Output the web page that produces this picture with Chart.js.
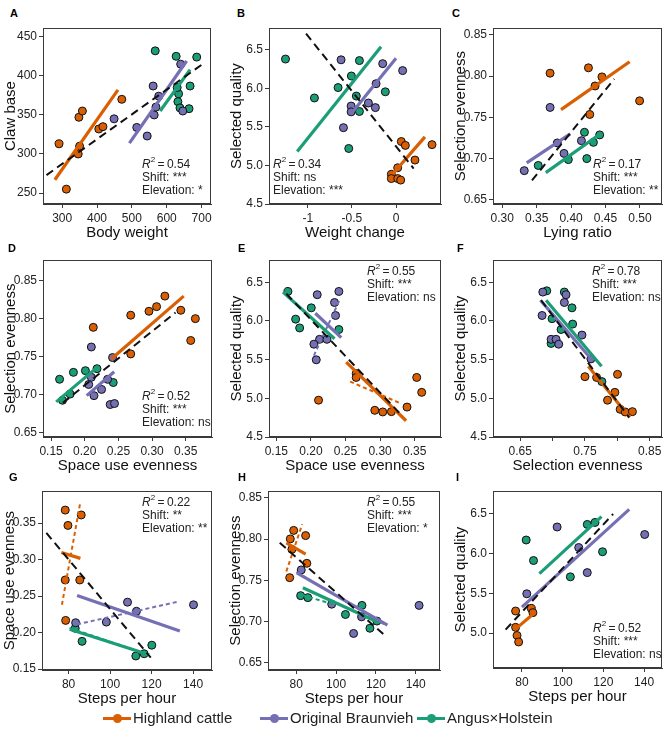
<!DOCTYPE html>
<html><head><meta charset="utf-8">
<script src="https://cdn.jsdelivr.net/npm/chart.js@4.4.0/dist/chart.umd.min.js"></script>
<style>
body{margin:0;background:#fff;width:669px;height:738px;position:relative;overflow:hidden;font-family:"Liberation Sans",Arial,sans-serif;}
canvas{position:absolute;}
.lab{position:absolute;font-weight:bold;font-size:11px;line-height:12px;color:#000;}
.ann{position:absolute;font-size:12px;line-height:13px;color:#222;white-space:nowrap;}
.ann sup{font-size:8px;line-height:0;position:relative;top:-1px;}
.leg{position:absolute;top:709px;height:18px;font-size:15px;line-height:18px;color:#222;white-space:nowrap;}
.mk{position:absolute;top:8px;height:3px;width:28px;}
.dot{position:absolute;top:5px;left:10px;width:9px;height:9px;border-radius:50%;}
</style></head><body>
<script>
// ---------------- DATA ----------------
const groups = ['Highland cattle','Original Braunvieh','Angus×Holstein'];
const colors = ['#D95F02','#7570B3','#1B9E77'];

// Panel A: Body weight vs Claw base
const A_hl = [[291,313],[312,255],[348,347],[358,355],[350,310],[346,300],[405,332],[417,335],[471,370]];
const A_ob = [[449,345],[514,334],[544,323],[561,387],[577,374],[564,350],[569,360],[640,415],[646,355]];
const A_ah = [[567,432],[627,425],[686,424],[667,387],[634,377],[632,367],[638,359],[664,358],[630,385]];
const A_fit_hl = [[279,267],[460,382]];
const A_fit_ob = [[493,314],[657,419]];
const A_fit_ah = [[581,355],[667,408]];
const A_fit_all = [[255,273],[709,417]];
const A_xTicks = [300,400,500,600,700];
const A_yTicks = [250,300,350,400,450];

// Panel B: Weight change vs Selected quality
const B_hl = [[0.06,5.31],[0.106,5.26],[0.408,5.27],[0.215,5.07],[0.019,4.97],[-0.053,4.885],[-0.053,4.83],[0.019,4.83],[0.053,4.81]];
const B_ob = [[-0.623,6.37],[-0.151,6.32],[0.075,6.23],[-0.226,6.06],[-0.509,5.77],[-0.509,5.695],[-0.313,5.81],[-0.234,5.75],[-0.596,5.49]];
const B_ah = [[-1.253,6.38],[-0.925,5.875],[-0.657,6.01],[-0.506,6.16],[-0.415,6.36],[-0.415,5.70],[-0.536,5.22],[-0.121,5.955],[-0.45,5.90]];
const B_fit_hl = [[-0.038,4.89],[0.328,5.37]];
const B_fit_ob = [[-0.509,5.67],[0,6.39]];
const B_fit_ah = [[-1.12,5.18],[-0.17,6.54]];
const B_fit_all = [[-1.02,6.71],[0.2,4.96]];
const B_xTicks = [-1,-0.5,0];
const B_yTicks = [4.5,5.0,5.5,6.0,6.5];

// Panel C: Lying ratio vs Selection evenness
const C_hl = [[0.3695,0.8035],[0.4252,0.810],[0.4448,0.799],[0.4348,0.788],[0.4271,0.7535],[0.4995,0.770]];
const C_ob = [[0.3695,0.762],[0.332,0.6854],[0.380,0.719],[0.3897,0.7063],[0.415,0.7217]];
const C_ah = [[0.3523,0.6917],[0.396,0.6988],[0.4228,0.700],[0.4194,0.7319],[0.4324,0.7197],[0.4415,0.7287]];
const C_fit_hl = [[0.3854,0.7594],[0.485,0.8173]];
const C_fit_ob = [[0.3355,0.6949],[0.3988,0.730]];
const C_fit_ah = [[0.3633,0.683],[0.4415,0.7295]];
const C_fit_all = [[0.3432,0.6736],[0.4626,0.7965]];
const C_xTicks = [0.30,0.35,0.40,0.45,0.50];
const C_yTicks = [0.65,0.70,0.75,0.80,0.85];

// Panel D: Space use evenness vs Selection evenness
const D_hl = [[0.2127,0.7885],[0.2683,0.8045],[0.2683,0.7535],[0.2954,0.8097],[0.3067,0.8158],[0.319,0.8297],[0.3427,0.811],[0.3643,0.800],[0.3574,0.7712]];
const D_ob = [[0.2098,0.7626],[0.2413,0.7487],[0.2059,0.7132],[0.2137,0.6985],[0.2250,0.7067],[0.2339,0.720],[0.2378,0.6868],[0.2442,0.6881],[0.2098,0.7227]];
const D_ah = [[0.1626,0.7201],[0.167,0.6924],[0.1832,0.7292],[0.1783,0.7006],[0.201,0.7314],[0.2182,0.734],[0.2423,0.7158]];
const D_fit_hl = [[0.2389,0.7465],[0.347,0.8297]];
const D_fit_ob = [[0.2029,0.6985],[0.2437,0.730]];
const D_fit_ah = [[0.1576,0.6903],[0.2206,0.7374]];
const D_fit_all = [[0.1675,0.689],[0.3348,0.808]];
const D_xTicks = [0.15,0.20,0.25,0.30,0.35];
const D_yTicks = [0.65,0.70,0.75,0.80,0.85];

// Panel E: Space use evenness vs Selected quality
const E_hl = [[0.2654,5.32],[0.2654,5.27],[0.211,4.976],[0.2923,4.845],[0.3038,4.824],[0.3163,4.828],[0.3389,4.887],[0.3529,5.27],[0.3601,5.077]];
const E_ob = [[0.2091,6.34],[0.2404,6.382],[0.2341,6.239],[0.2356,6.071],[0.2125,5.763],[0.2043,5.70],[0.2077,5.498],[0.2231,5.763]];
const E_ah = [[0.1668,6.382],[0.1779,6.024],[0.1837,5.91],[0.2005,6.17],[0.2404,5.89]];
const E_fit_hl = [[0.251,5.468],[0.3375,4.71]];
const E_fit_ob = [[0.2063,6.1],[0.2438,5.784]];
const E_fit_ah = [[0.1596,6.374],[0.2341,5.77]];
const E_fit_all = [[0.1644,6.353],[0.3317,4.774]];
const E_dash_hl = [[0.2567,5.216],[0.3279,4.942]];
const E_dash_ob = [[0.2043,5.553],[0.2413,6.268]];
const E_dash_ah = [[0.165,6.33],[0.23,5.80]];
const E_xTicks = [0.15,0.20,0.25,0.30,0.35];
const E_yTicks = [4.5,5.0,5.5,6.0,6.5];

// Panel F: Selection evenness vs Selected quality
const F_hl = [[0.75,5.28],[0.768,5.27],[0.8003,5.31],[0.7962,5.077],[0.7849,4.976],[0.8044,4.858],[0.8121,4.824],[0.8233,4.828]];
const F_ob = [[0.6849,6.374],[0.6838,6.071],[0.7208,6.34],[0.7182,6.239],[0.6977,5.763],[0.7054,5.763],[0.7095,5.70],[0.7454,5.818],[0.7592,5.51]];
const F_ah = [[0.691,6.39],[0.7182,6.374],[0.73,6.17],[0.6992,6.03],[0.731,5.96],[0.7131,5.89],[0.6977,5.71],[0.7762,5.216]];
const F_fit_hl = [[0.7551,5.414],[0.8192,4.753]];
const F_fit_ob = [[0.6813,6.268],[0.7618,5.489]];
const F_fit_ah = [[0.69,6.268],[0.7756,5.414]];
const F_fit_all = [[0.6823,6.268],[0.8182,4.753]];
const F_xTicks = [0.65,0.70,0.75,0.80,0.85];
const F_xLabels = ['0.65','','0.75','','0.85'];
const F_yTicks = [4.5,5.0,5.5,6.0,6.5];

// Panel G: Steps per hour vs Space use evenness
const G_hl = [[78.4,0.3679],[79.7,0.3469],[86.1,0.3612],[78.4,0.2721],[85.4,0.2721],[78.6,0.2167]];
const G_ob = [[83.4,0.2135],[98.2,0.2144],[108.4,0.2417],[112.7,0.2292],[140.2,0.2381]];
const G_ah = [[83.2,0.2059],[86.5,0.188],[112.4,0.1679],[116.4,0.171],[120.1,0.1827]];
const G_fit_hl = [[76.5,0.3097],[85.7,0.3017]];
const G_fit_ob = [[84.1,0.2507],[133.6,0.2023]];
const G_fit_ah = [[80.5,0.2046],[118.8,0.1697]];
const G_fit_all = [[69.3,0.3366],[119.6,0.1657]];
const G_dash_hl = [[76.8,0.2381],[85.6,0.3777]];
const G_dash_ob = [[84.1,0.2113],[133.1,0.2426]];
const G_dash_ah = [[80.5,0.2065],[117,0.1712]];
const G_xTicks = [80,100,120,140];
const G_yTicks = [0.15,0.20,0.25,0.30,0.35];

// Panel H: Steps per hour vs Selection evenness
const H_hl = [[78.7,0.8105],[77.0,0.8002],[84.7,0.8042],[77.8,0.7875],[85.3,0.7706],[76.7,0.7532]];
const H_ob = [[82.5,0.7626],[97.8,0.7211],[112.8,0.7057],[108.8,0.6856],[141.7,0.7196]];
const H_ah = [[82.2,0.7314],[85.8,0.729],[104.7,0.7086],[113,0.7196],[117,0.6919],[120.5,0.7006]];
const H_fit_hl = [[75,0.7955],[84.7,0.7816]];
const H_fit_ob = [[80.3,0.7591],[125.8,0.6958]];
const H_fit_ah = [[83.3,0.7409],[121.7,0.6986]];
const H_fit_all = [[71.7,0.7955],[124.7,0.6828]];
const H_dash_hl = [[75,0.7607],[83,0.818]];
const H_dash_ob = [[80,0.760],[124,0.697]];
const H_dash_ah = [[83,0.732],[100,0.720]];
const H_xTicks = [80,100,120,140];
const H_yTicks = [0.65,0.70,0.75,0.80,0.85];

// Panel I: Steps per hour vs Selected quality
const I_hl = [[76.9,5.277],[84.6,5.31],[85.4,5.257],[76.9,5.073],[77.6,4.971],[78.4,4.89]];
const I_ob = [[82.4,5.493],[97.3,6.329],[107.9,6.072],[112.1,5.758],[140.3,6.235]];
const I_ah = [[82.1,6.166],[85.7,5.909],[103.8,5.705],[112.1,6.361],[115.9,6.386],[119.6,6.019]];
const I_fit_hl = [[76.4,5.041],[85.4,5.236]];
const I_fit_ob = [[80,5.326],[132.7,6.549]];
const I_fit_ah = [[88.6,5.746],[119.1,6.459]];
const I_fit_all = [[72,5.045],[124.8,6.492]];
const I_xTicks = [80,100,120,140];
const I_yTicks = [5.0,5.5,6.0,6.5];

// Statistics text
const stats = {
  A:['0.54','***','*'], B:['0.34','ns','***'], C:['0.17','***','**'],
  D:['0.52','***','ns'], E:['0.55','***','ns'], F:['0.78','***','ns'],
  G:['0.22','**','**'], H:['0.55','***','*'], I:['0.52','***','ns']
};

// ---------------- LAYOUT ----------------
const panels = [
 {id:'A',box:[43,24,212,204],x:[245,727],y:[236,461],xt:A_xTicks,yt:A_yTicks,xd:0,yd:0,xT:'Body weight',yT:'Claw base',pts:[A_hl,A_ob,A_ah],fit:[A_fit_hl,A_fit_ob,A_fit_ah],all:A_fit_all,lab:[10,7],ann:[142,158]},
 {id:'B',box:[269,24,442,204],x:[-1.44,0.51],y:[4.5,6.78],xt:B_xTicks,yt:B_yTicks,xd:-1,yd:1,xT:'Weight change',yT:'Selected quality',pts:[B_hl,B_ob,B_ah],fit:[B_fit_hl,B_fit_ob,B_fit_ah],all:B_fit_all,lab:[237,7],ann:[273,158]},
 {id:'C',box:[493,24,663,204],x:[0.2866,0.532],y:[0.645,0.858],xt:C_xTicks,yt:C_yTicks,xd:2,yd:2,xT:'Lying ratio',yT:'Selection evenness',pts:[C_hl,C_ob,C_ah],fit:[C_fit_hl,C_fit_ob,C_fit_ah],all:C_fit_all,lab:[452,7],ann:[593,158]},
 {id:'D',box:[43,256,213,437],x:[0.138,0.389],y:[0.644,0.877],xt:D_xTicks,yt:D_yTicks,xd:2,yd:2,xT:'Space use evenness',yT:'Selection evenness',pts:[D_hl,D_ob,D_ah],fit:[D_fit_hl,D_fit_ob,D_fit_ah],all:D_fit_all,lab:[8,242],ann:[142,390]},
 {id:'E',box:[269,256,442,437],x:[0.1394,0.388],y:[4.5,6.786],xt:E_xTicks,yt:E_yTicks,xd:2,yd:1,xT:'Space use evenness',yT:'Selected quality',pts:[E_hl,E_ob,E_ah],fit:[E_fit_hl,E_fit_ob,E_fit_ah],all:E_fit_all,dash:[E_dash_hl,E_dash_ob,E_dash_ah],lab:[238,242],ann:[367,265]},
 {id:'F',box:[493,256,663,437],x:[0.608,0.869],y:[4.5,6.786],xt:F_xTicks,xl:F_xLabels,yt:F_yTicks,xd:2,yd:1,xT:'Selection evenness',yT:'Selected quality',pts:[F_hl,F_ob,F_ah],fit:[F_fit_hl,F_fit_ob,F_fit_ah],all:F_fit_all,lab:[457,242],ann:[592,265]},
 {id:'G',box:[42,487,213,670],x:[67.2,149.1],y:[0.1487,0.3938],xt:G_xTicks,yt:G_yTicks,xd:0,yd:2,xT:'Steps per hour',yT:'Space use evenness',pts:[G_hl,G_ob,G_ah],fit:[G_fit_hl,G_fit_ob,G_fit_ah],all:G_fit_all,dash:[G_dash_hl,G_dash_ob,G_dash_ah],lab:[9,471],ann:[142,496]},
 {id:'H',box:[268,487,441,670],x:[65.8,152.2],y:[0.6413,0.858],xt:H_xTicks,yt:H_yTicks,xd:0,yd:2,xT:'Steps per hour',yT:'Selection evenness',pts:[H_hl,H_ob,H_ah],fit:[H_fit_hl,H_fit_ob,H_fit_ah],all:H_fit_all,dash:[H_dash_hl,H_dash_ob,H_dash_ah],lab:[238,471],ann:[367,496]},
 {id:'I',box:[493,487,663,668],x:[65.8,148.8],y:[4.564,6.777],xt:I_xTicks,yt:I_yTicks,xd:0,yd:1,xT:'Steps per hour',yT:'Selected quality',pts:[I_hl,I_ob,I_ah],fit:[I_fit_hl,I_fit_ob,I_fit_ah],all:I_fit_all,lab:[456,471],ann:[593,622]}
];

const FONT = '"Liberation Sans", Arial, sans-serif';
const YW = 43, XH = 40, PT = 5, PR = 4;
const boxPlugin = {id:'box', afterDraw(chart){
  const a = chart.chartArea, ctx = chart.ctx;
  ctx.save(); ctx.strokeStyle = '#3a3a3a'; ctx.lineWidth = 1;
  ctx.strokeRect(Math.round(a.left)+0.5, Math.round(a.top)+0.5, Math.round(a.right-a.left)-1, Math.round(a.bottom-a.top)-1);
  ctx.restore();
}};
const toXY = arr => arr.map(([x,y]) => ({x, y}));
function fmt(v, d){ if (d < 0) return String(v); return v.toFixed(d); }

function build(p){
  const c = document.createElement('canvas');
  const W = YW + (p.box[2]-p.box[0]) + PR, H = PT + (p.box[3]-p.box[1]) + XH;
  c.width = W; c.height = H;
  c.style.width = W+'px'; c.style.height = H+'px';
  c.style.left = (p.box[0]-YW)+'px'; c.style.top = (p.box[1]-PT)+'px';
  document.body.appendChild(c);
  const ds = [];
  p.pts.forEach((arr,i) => ds.push({data:toXY(arr), backgroundColor:colors[i], borderColor:'#111', borderWidth:1, pointRadius:4, pointHoverRadius:4, showLine:false, order:3}));
  if (p.dash) p.dash.forEach((arr,i) => ds.push({data:toXY(arr), borderColor:colors[i], borderWidth:2, borderDash:[4,3], pointRadius:0, showLine:true, fill:false, order:2}));
  p.fit.forEach((arr,i) => ds.push({data:toXY(arr), borderColor:colors[i], borderWidth:3.2, pointRadius:0, showLine:true, fill:false, order:1, borderCapStyle:'butt'}));
  ds.push({data:toXY(p.all), borderColor:'#111', borderWidth:2, borderDash:[8,5], pointRadius:0, showLine:true, fill:false, order:0});
  const axisCommon = (ticksArr, dec, labels, title, isY) => ({
    type:'linear', min: isY ? p.y[0] : p.x[0], max: isY ? p.y[1] : p.x[1],
    afterBuildTicks: s => { s.ticks = ticksArr.map(v => ({value:v})); },
    afterFit: s => { if (isY) s.width = YW; else s.height = XH; },
    ticks:{ autoSkip:false, maxRotation:0, padding: isY ? 2 : 3, color:'#222', font:{family:FONT, size:12},
      callback:(v,i) => labels ? labels[i] : fmt(ticksArr[i], dec) },
    grid:{ display:true, drawOnChartArea:false, drawTicks:true, tickLength:4, color:'#3a3a3a', lineWidth:1 },
    border:{ display:true, color:'#3a3a3a', width:1 },
    title:{ display:true, text:title, color:'#111', font:{family:FONT, size:15}, padding: isY ? {top:2,bottom:0} : {top:0,bottom:2} }
  });
  new Chart(c, {
    type:'scatter',
    data:{datasets:ds},
    options:{
      responsive:false, animation:false, devicePixelRatio:1,
      layout:{padding:{top:PT, right:PR, left:0, bottom:0}},
      plugins:{legend:{display:false}, tooltip:{enabled:false}},
      scales:{ x: axisCommon(p.xt, p.xd, p.xl, p.xT, false), y: axisCommon(p.yt, p.yd, p.yl, p.yT, true) }
    },
    plugins:[boxPlugin]
  });
  const L = document.createElement('div'); L.className = 'lab'; L.textContent = p.id;
  L.style.left = p.lab[0]+'px'; L.style.top = p.lab[1]+'px'; document.body.appendChild(L);
  const s = stats[p.id];
  const A = document.createElement('div'); A.className = 'ann';
  A.style.left = p.ann[0]+'px'; A.style.top = p.ann[1]+'px';
  A.innerHTML = '<i>R</i><sup>2</sup>\u2009=\u20090' + s[0].slice(1) + '<br>Shift: ' + s[1] + '<br>Elevation: ' + s[2];
  document.body.appendChild(A);
}
panels.forEach(build);

// Legend
const legX = [103, 260, 417];
groups.forEach((g,i) => {
  const d = document.createElement('div'); d.className = 'leg'; d.style.left = legX[i]+'px';
  d.innerHTML = '<span class="mk" style="left:0;background:'+colors[i]+'"></span><span class="dot" style="background:'+colors[i]+'"></span><span style="margin-left:30px">'+g+'</span>';
  document.body.appendChild(d);
});
</script>
</body></html>
